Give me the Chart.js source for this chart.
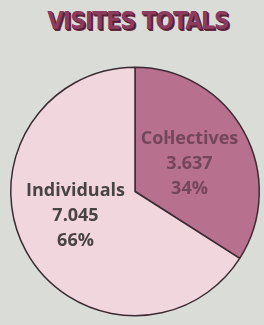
<!DOCTYPE html>
<html lang="ca">
<head>
  <meta charset="UTF-8" />
  <title>Visites totals</title>
  <script src="https://cdn.jsdelivr.net/npm/chart.js"></script>
  <style>
    * { box-sizing: border-box; }
    html, body {
      margin: 0;
      padding: 0;
      width: 264px;
      height: 325px;
      overflow: hidden;
      background: #dadcd7;
    }
    .titol {
      position: absolute;
      top: 7px;
      left: 0;
      width: 276px;
      text-align: center;
      font-family: 'Liberation Sans Narrow', 'DejaVu Sans Condensed', sans-serif;
      font-weight: bold;
      font-size: 24px;
      letter-spacing: -0.8px;
      color: #8c3a5e;
      text-shadow: 1px 1px 0 #4a2030, 2px 2px 0 #6a2a45;
    }
    .wrap {
      position: absolute;
      left: 0;
      top: 0;
      width: 264px;
      height: 325px;
    }
  </style>
</head>
<body>
  <div class="titol">VISITES TOTALS</div>
  <div class="wrap"><canvas id="grafic"></canvas></div>

  <script>
    // dades
    const categories = ['Col·lectives', 'Individuals'];
    const visites = [3637, 7045];
    const etiquetesValor = ['3.637', '7.045'];
    const percentatges = ['34%', '66%'];
    const colors = ['#b7708e', '#f2d6de'];
    const colorsText = ['#74465a', '#484345'];

    // etiquetes dins de cada porció
    const etiquetes = {
      id: 'etiquetes',
      afterDatasetsDraw(chart) {
        const ctx = chart.ctx;
        const meta = chart.getDatasetMeta(0);
        meta.data.forEach((arc, i) => {
          const p = arc.getProps(['x', 'y', 'startAngle', 'endAngle', 'outerRadius'], true);
          const mig = (p.startAngle + p.endAngle) / 2;
          const r = p.outerRadius * 0.5;
          const x = p.x + Math.cos(mig) * r - (i === 1 ? 5 : 0);
          const y = p.y + Math.sin(mig) * r - (i === 1 ? 5 : -2);
          const linies = [categories[i], etiquetesValor[i], percentatges[i]];
          ctx.save();
          ctx.fillStyle = colorsText[i];
          ctx.font = 'bold 18px "Open Sans", sans-serif';
          ctx.textAlign = 'center';
          ctx.textBaseline = 'middle';
          linies.forEach((t, k) => {
            ctx.fillText(t, x, y + (k - 1) * 25);
          });
          ctx.restore();
        });
      }
    };

    const ctx = document.getElementById('grafic').getContext('2d');
    new Chart(ctx, {
      type: 'pie',
      data: {
        labels: categories,
        datasets: [{
          data: visites,
          backgroundColor: colors,
          borderColor: '#3c2a32',
          borderWidth: 1.5
        }]
      },
      options: {
        responsive: true,
        maintainAspectRatio: false,
        animation: false,
        layout: { padding: { top: 66, left: 10, right: 4, bottom: 8 } },
        plugins: {
          legend: { display: false },
          tooltip: { enabled: false }
        }
      },
      plugins: [etiquetes]
    });
  </script>
</body>
</html>
